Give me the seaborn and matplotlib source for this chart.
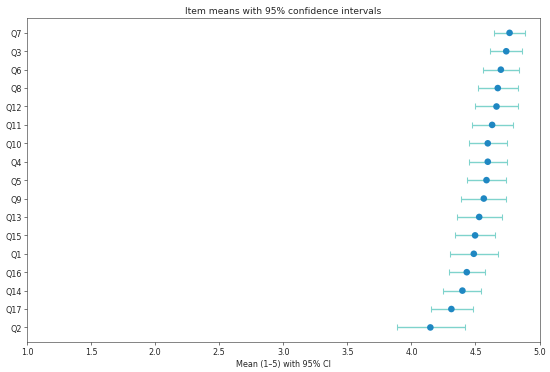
import numpy as np
import pandas as pd
import matplotlib
matplotlib.use("Agg")
import matplotlib.pyplot as plt
import seaborn as sns

# Item means and 95% CI bounds (top to bottom)
items = ['Q7', 'Q3', 'Q6', 'Q8', 'Q12', 'Q11', 'Q10', 'Q4', 'Q5',
         'Q9', 'Q13', 'Q15', 'Q1', 'Q16', 'Q14', 'Q17', 'Q2']
means = [4.766, 4.740, 4.698, 4.674, 4.664, 4.630, 4.596, 4.596, 4.586,
         4.565, 4.529, 4.497, 4.487, 4.432, 4.398, 4.312, 4.148]
ci_low = [4.643, 4.617, 4.557, 4.521, 4.497, 4.471, 4.448, 4.448, 4.432,
          4.388, 4.357, 4.344, 4.299, 4.297, 4.250, 4.151, 3.885]
ci_high = [4.888, 4.865, 4.838, 4.828, 4.831, 4.792, 4.748, 4.748, 4.742,
           4.737, 4.706, 4.651, 4.674, 4.573, 4.547, 4.479, 4.419]

df = pd.DataFrame({'item': items, 'mean': means, 'low': ci_low, 'high': ci_high})
df['pos'] = np.arange(len(df))

sns.set_style("ticks", {'axes.edgecolor': '#3a3a3a'})
plt.rcParams['font.size'] = 10.5

fig, ax = plt.subplots(figsize=(10, 6.78), dpi=55)

# error bars
ax.errorbar(df['mean'], df['pos'],
            xerr=[df['mean'] - df['low'], df['high'] - df['mean']],
            fmt='none', ecolor='#7fd3cc', elinewidth=1.8, capsize=4, capthick=1.4)

# points
sns.scatterplot(data=df, x='mean', y='pos', color='#1f87c2', s=75,
                edgecolor='none', ax=ax, zorder=3)

ax.set_yticks(df['pos'])
ax.set_yticklabels(df['item'])
ax.invert_yaxis()
ax.set_xlim(1, 5)
ax.set_xlabel('Mean (1–5) with 95% CI')
ax.set_ylabel('')
ax.set_title('Item means with 95% confidence intervals', fontsize=12)

fig.subplots_adjust(left=0.049, right=0.981, top=0.949, bottom=0.080)
plt.savefig('out.png', dpi=55)
